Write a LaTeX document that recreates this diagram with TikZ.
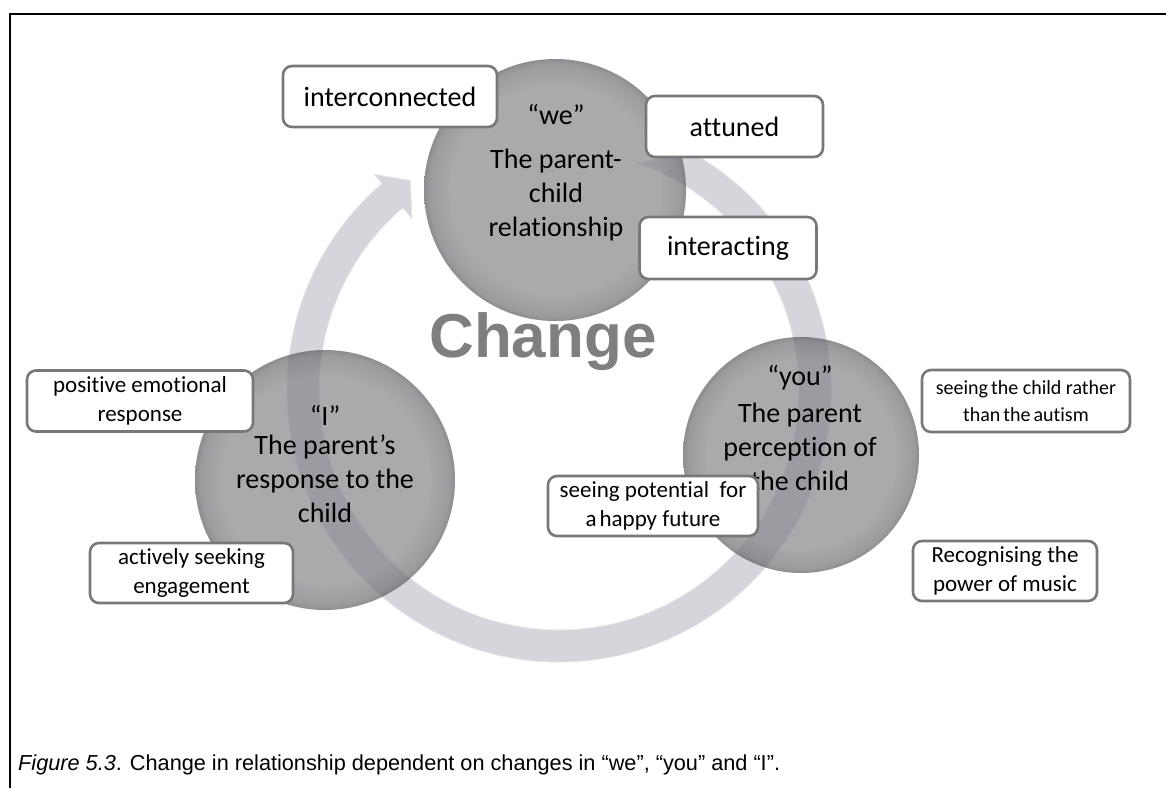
\documentclass[tikz,border=0pt]{standalone}
\usepackage{fontspec}
\setmainfont{Carlito}[Ligatures=NoCommon]
\newfontfamily\arialf{Liberation Sans}
\definecolor{boxgray}{RGB}{120,120,120}
\definecolor{ringc}{RGB}{213,213,219}
\definecolor{ringedge}{RGB}{228,228,234}
\definecolor{cA}{RGB}{126,126,131}
\definecolor{cB}{RGB}{104,104,109}
\definecolor{cC}{RGB}{82,82,87}
\definecolor{changegray}{RGB}{127,127,127}
\pgfdeclareradialshading{bevel}{\pgfpoint{0bp}{0bp}}{color(0bp)=(cA); color(20bp)=(cA); color(24bp)=(cB); color(25bp)=(cC); color(50bp)=(cC)}
\begin{document}
\begin{tikzpicture}[x=1pt,y=-1pt,
  box/.style={draw=boxgray, line width=2.6pt, fill=white, rounded corners=9pt, inner sep=0pt, align=center, rectangle},
  bigbox/.style={box, font=\fontsize{28}{34}\selectfont},
  smallbox/.style={box, font=\fontsize{23}{29}\selectfont},
  circletext/.style={align=center, text=black, font=\fontsize{28}{34}\selectfont},
  disc/.style={shading=bevel, opacity=0.66},
  ring/.style={fill=ringc, draw=ringedge, line width=0.8pt}]
\useasboundingbox (0,0) rectangle (1166,788);
% frame
\draw[line width=2.5pt] (10,788) -- (10,14) -- (1166,14);
% circular arrow
\path[ring] ({559+272*cos(-61)},{390+272*sin(-61)})
  arc[start angle=-61, end angle=229.4, radius=272]
  -- ({559+284*cos(229.4)},{390+284*sin(229.4)})
  -- ({559+257*cos(234.6)},{390+257*sin(234.6)})
  -- ({559+226*cos(229.4)},{390+226*sin(229.4)})
  -- ({559+240*cos(229.4)},{390+240*sin(229.4)})
  arc[start angle=229.4, end angle=-71, radius=240] -- cycle;
% circles
\shade[disc] (555,190) circle[radius=131];
\shade[disc] (325,480) circle[radius=130];
\shade[disc] (801,455) circle[radius=118];
% circle texts
\node[circletext] (weq) at (556,114) {“we”};
\node[circletext] (we) at (556,195) {The parent-\\child\\relationship};
\node[circletext] (iq) at (325,415) {“I”};
\node[circletext] (i) at (325,479) {The parent’s\\response to the\\child};
\node[circletext] (youq) at (800,378) {“you”};
\node[circletext] (you) at (800,447) {The parent\\perception of\\the child};
% Change
\node[font=\arialf\bfseries\fontsize{62}{66}\selectfont, text=changegray] (change) at (543,342) {Change};
% boxes
\node[bigbox, minimum width=214pt, minimum height=61pt] (inter) at (390,96.5) {interconnected};
\node[bigbox, minimum width=177pt, minimum height=61pt] (att) at (734.5,126.5) {attuned};
\node[bigbox, minimum width=177pt, minimum height=62pt] (intact) at (728,248) {interacting};
\node[smallbox, minimum width=226pt, minimum height=61pt] (pos) at (140,401) {positive emotional\\response};
\node[smallbox, minimum width=203pt, minimum height=60pt] (act) at (191.5,573) {actively seeking\\engagement};
\node[smallbox, font=\fontsize{20}{27}\selectfont, minimum width=208pt, minimum height=62pt] (seechild) at (1026,401) {seeing\hspace{3pt}the child rather\\than\hspace{3pt}the\hspace{3pt}autism};
\node[smallbox, minimum width=210pt, minimum height=60pt] (seepot) at (653,506) {seeing potential \ for\\a\hspace{3pt}happy future};
\node[smallbox, minimum width=184pt, minimum height=60pt] (recog) at (1005,571) {Recognising the\\power of music};
% caption
\node[anchor=base west, inner sep=0pt, font=\arialf\fontsize{21.7}{26}\selectfont] (cap) at (18,770) {\textit{Figure 5.3}. Change in relationship dependent on changes in “we”, “you” and “I”.};
\end{tikzpicture}
\end{document}
